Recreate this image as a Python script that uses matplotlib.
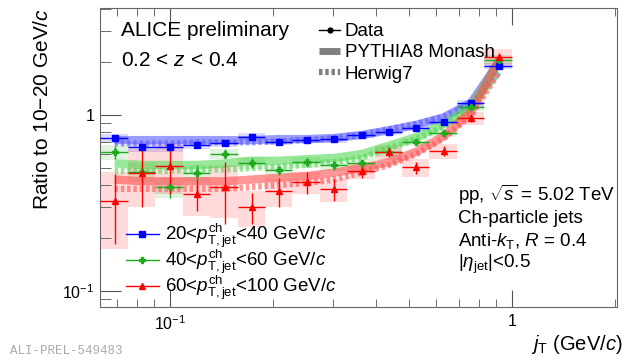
import matplotlib
matplotlib.use("Agg")
import matplotlib.pyplot as plt
import numpy as np
from matplotlib.lines import Line2D
from matplotlib.ticker import LogLocator, NullFormatter

plt.rcParams['font.family'] = ['Liberation Sans', 'DejaVu Sans']
plt.rcParams['mathtext.fontset'] = 'custom'
plt.rcParams['mathtext.rm'] = 'Liberation Sans'
plt.rcParams['mathtext.it'] = 'Liberation Sans:italic'
plt.rcParams['mathtext.bf'] = 'Liberation Sans:bold'

# jT bin edges (GeV/c)
edges = [0.0625, 0.0752, 0.0904, 0.109, 0.131, 0.158, 0.190, 0.228,
         0.274, 0.330, 0.397, 0.478, 0.574, 0.691, 0.831, 1.0]

# data: ratio to 10-20 GeV/c
blue_y = [0.737, 0.66, 0.66, 0.675, 0.69, 0.752, 0.705, 0.72, 0.727, 0.77,
          0.804, 0.84, 0.916, 1.166, 1.90]
blue_stat = [0.02, 0.02, 0.02, 0.02, 0.02, 0.02, 0.015, 0.015, 0.015, 0.015,
             0.015, 0.015, 0.02, 0.03, 0.06]
blue_sys = [0.04, 0.04, 0.04, 0.035, 0.035, 0.035, 0.03, 0.03, 0.03, 0.03,
            0.03, 0.03, 0.035, 0.05, 0.08]

green_y = [0.613, 0.474, 0.389, 0.47, 0.60, 0.535, 0.486, 0.538, 0.519, 0.533,
           0.618, 0.705, 0.787, 1.115, 2.06]
green_stat = [0.05, 0.06, 0.05, 0.05, 0.04, 0.035, 0.03, 0.03, 0.03, 0.03,
              0.03, 0.03, 0.03, 0.04, 0.08]
green_sys = [0.06, 0.06, 0.05, 0.05, 0.04, 0.04, 0.04, 0.04, 0.04, 0.04,
             0.04, 0.04, 0.04, 0.06, 0.12]

red_y = [0.324, 0.469, 0.514, 0.355, 0.391, 0.301, 0.371, 0.414, 0.379, 0.48,
         0.618, 0.504, 0.624, 0.958, 2.147]
red_stat = [0.14, 0.17, 0.16, 0.07, 0.15, 0.06, 0.07, 0.06, 0.055, 0.04,
            0.04, 0.04, 0.04, 0.05, 0.12]
red_sys = [0.15, 0.17, 0.16, 0.09, 0.13, 0.07, 0.07, 0.06, 0.06, 0.05,
           0.06, 0.06, 0.06, 0.08, 0.22]

# MC predictions at bin centres
blue_py = [0.72, 0.72, 0.72, 0.72, 0.72, 0.72, 0.73, 0.73, 0.74, 0.77,
           0.82, 0.88, 0.97, 1.18, 2.0]
blue_hw = [0.69, 0.69, 0.69, 0.70, 0.70, 0.70, 0.71, 0.72, 0.74, 0.77,
           0.83, 0.89, 0.98, 1.15, 1.75]
green_py = [0.53, 0.52, 0.52, 0.52, 0.53, 0.55, 0.55, 0.56, 0.57, 0.60,
            0.67, 0.75, 0.89, 1.12, 2.0]
green_hw = [0.48, 0.48, 0.48, 0.49, 0.49, 0.50, 0.51, 0.52, 0.54, 0.57,
            0.65, 0.73, 0.86, 1.08, 1.75]
red_py = [0.43, 0.42, 0.42, 0.42, 0.42, 0.43, 0.44, 0.45, 0.47, 0.50,
          0.54, 0.62, 0.76, 1.05, 2.05]
red_hw = [0.38, 0.38, 0.38, 0.38, 0.38, 0.39, 0.40, 0.41, 0.43, 0.47,
          0.52, 0.60, 0.74, 1.0, 1.75]

labels = [r'20<$p^{\rm ch}_{\rm T,jet}$<40 GeV/$c$',
          r'40<$p^{\rm ch}_{\rm T,jet}$<60 GeV/$c$',
          r'60<$p^{\rm ch}_{\rm T,jet}$<100 GeV/$c$']

lo = np.array(edges[:-1])
hi = np.array(edges[1:])
xc = 0.5 * (lo + hi)

fig = plt.figure(figsize=(6.23, 3.58), dpi=100)
ax = fig.add_axes([100/623, 1-307/358, 517/623, 299/358])

series = [
    (blue_y, blue_stat, blue_sys, blue_py, blue_hw, '#0000ff', '#5a5aff', 's', 4.5),
    (green_y, green_stat, green_sys, green_py, green_hw, '#1faa1f', '#55d855', 'P', 4.5),
    (red_y, red_stat, red_sys, red_py, red_hw, '#ff0000', '#ff5050', '^', 5),
]

handles = []
for (y, st, sy, py, hw, col, bcol, mk, ms) in series:
    y = np.array(y); sy = np.array(sy)
    ax.bar(lo, 2*sy, bottom=y-sy, width=hi-lo, align='edge',
           color=col, alpha=0.14, linewidth=0, zorder=1)
for (y, st, sy, py, hw, col, bcol, mk, ms) in series:
    ax.plot(xc, py, color=bcol, lw=6, alpha=0.6, solid_capstyle='butt', zorder=2)
    ax.plot(xc, hw, color=bcol, lw=4.5, alpha=0.6, dash_capstyle='butt',
            linestyle=(0, (0.55, 0.45)), zorder=2)
for (y, st, sy, py, hw, col, bcol, mk, ms) in series:
    ax.errorbar(xc, y, xerr=[xc-lo, hi-xc], yerr=st, fmt=mk, color=col,
                ms=ms, elinewidth=1, capsize=0, zorder=4)
    handles.append(Line2D([], [], color=col, marker=mk, ms=ms, lw=1))

ax.set_xscale('log')
ax.set_yscale('log')
ax.set_xlim(0.0624, 2.03)
ax.set_ylim(0.081, 4.06)

ax.set_xticks([0.1, 1], [r'$10^{-1}$', '1'])
ax.set_yticks([0.1, 1], [r'$10^{-1}$', '1'])
ax.xaxis.set_minor_locator(LogLocator(base=10, subs=np.arange(2, 10)))
ax.yaxis.set_minor_locator(LogLocator(base=10, subs=np.arange(2, 10)))
ax.xaxis.set_minor_formatter(NullFormatter())
ax.yaxis.set_minor_formatter(NullFormatter())
ax.tick_params(which='both', direction='in', top=True, right=False,
               color='#555555', labelsize=11.5)
ax.tick_params(axis='x', which='major', length=12, pad=5)
ax.tick_params(axis='x', which='minor', length=6)
ax.tick_params(axis='y', which='major', length=15, pad=4)
ax.tick_params(axis='y', which='minor', length=8)
for s in ax.spines.values():
    s.set_color('#666666')

ax.set_ylabel(r'Ratio to 10$-$20 GeV/$c$', fontsize=15, loc='top')
ax.yaxis.set_label_coords(-0.092, 1.0)
fig.text(622/623, 1-345/358, r'$j_{\rm T}$ (GeV/$c$)', fontsize=14.5,
         ha='right', va='center')

ax.text(0.04, 0.926, 'ALICE preliminary', transform=ax.transAxes,
        fontsize=15, va='center')
ax.text(0.04, 0.826, r'0.2 < $z$ < 0.4', transform=ax.transAxes,
        fontsize=15, va='center')

info = ['pp, $\\sqrt{s}$ = 5.02 TeV', 'Ch-particle jets',
        r'Anti-$k_{\rm T}$, $R$ = 0.4', r'|$\eta_{\rm jet}$|<0.5']
for i, t in enumerate(info):
    ax.text(0.6925, 0.3746 - i*0.077, t, transform=ax.transAxes,
            fontsize=13.5, va='center')

leg1 = ax.legend(handles, labels, loc='upper left', bbox_to_anchor=(0.035, 0.31),
                 frameon=False, fontsize=13.5, handlelength=1.8,
                 handletextpad=0.3, labelspacing=-0.12, borderaxespad=0)
ax.add_artist(leg1)

mc_handles = [Line2D([], [], color='black', marker='o', ms=3.5, lw=1),
              Line2D([], [], color='gray', lw=5, solid_capstyle='butt'),
              Line2D([], [], color='gray', lw=4.5, linestyle=(0, (0.55, 0.45)),
                     dash_capstyle='butt')]
ax.legend(mc_handles, ['Data', 'PYTHIA8 Monash', 'Herwig7'], loc='upper left',
          bbox_to_anchor=(0.41, 0.975), frameon=False, fontsize=13.5,
          handlelength=1.1, handletextpad=0.25, labelspacing=0.22,
          borderaxespad=0)

fig.text(10/623, 1-345/358, 'ALI-PREL-549483', fontsize=9, color='#aaaaaa',
         family='Liberation Mono', va='top')

fig.savefig('out.png', dpi=100)
